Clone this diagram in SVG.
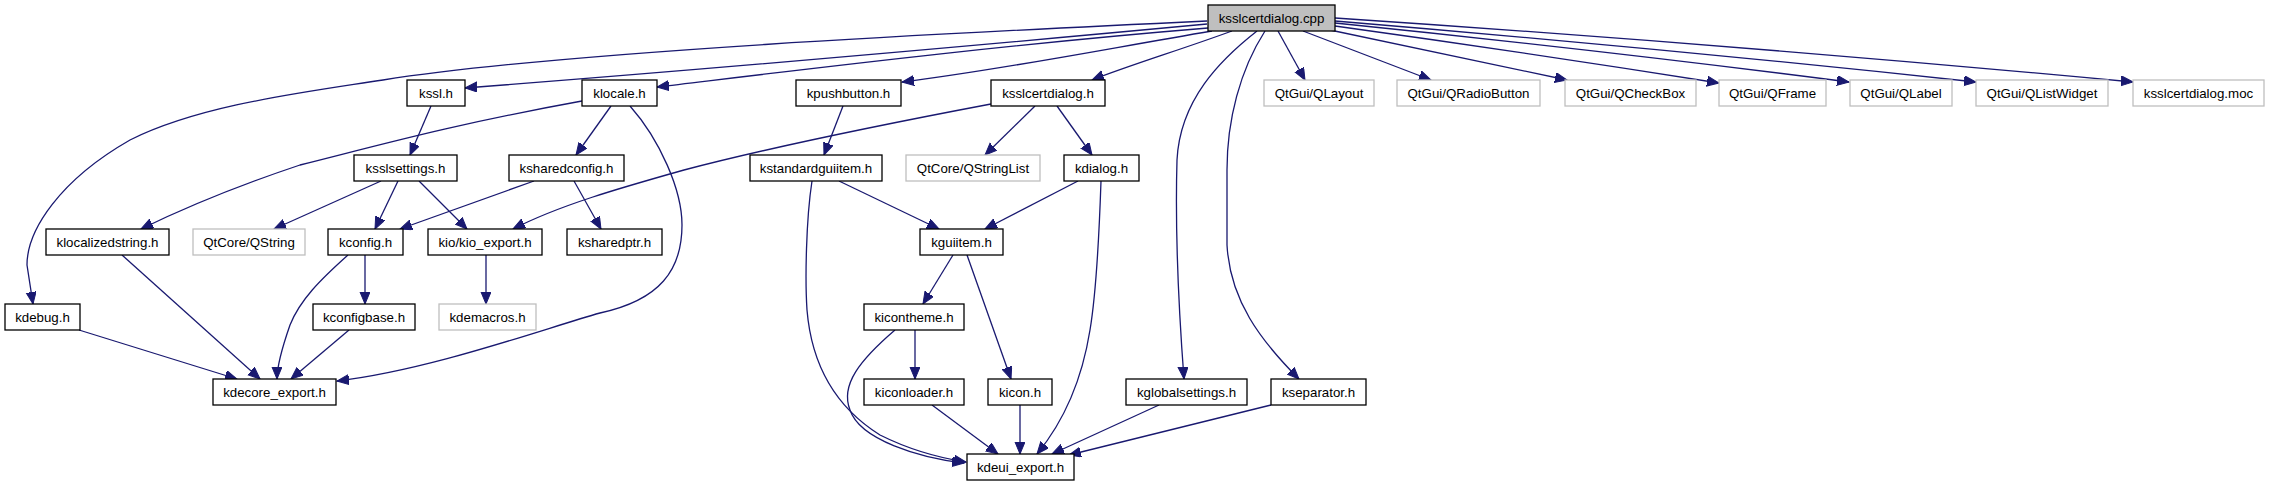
<svg xmlns="http://www.w3.org/2000/svg" width="2269" height="485" viewBox="0 0 2269 485">
<style>
.n rect{fill:#fff;stroke:#000;stroke-width:1.3}
.n.g rect{stroke:#bfbfbf}
.n.r rect{fill:#bfbfbf}
.n text{font-family:"Liberation Sans",Arial,sans-serif;font-size:13.3px;fill:#000;text-anchor:middle}
#edges path{fill:none;stroke:#191970;stroke-width:1.3;marker-end:url(#ah)}
</style>
<defs>
<marker id="ah" markerUnits="userSpaceOnUse" markerWidth="14" markerHeight="12" refX="12" refY="5" orient="auto">
<path d="M0,0 L12,5 L0,10 z" fill="#191970" stroke="#191970" stroke-width="1"/>
</marker>
</defs>
<rect width="2269" height="485" fill="#fff"/>
<g id="edges">
<path d="M1207,21 C950,33 560,52 383,80 C300,93 200,105 130,140 C60,180 27,230 27,265 L33,304"/>
<path d="M1207,24 Q800,62 465,88"/>
<path d="M1208,28 C1000,45 800,70 657,87"/>
<path d="M1212,31 C1100,50 1000,70 902,82"/>
<path d="M1232,31 C1180,50 1130,65 1092,80"/>
<path d="M1257,31 C1220,60 1180,100 1177,160 C1175,230 1178,300 1184,379"/>
<path d="M1265,31 C1240,70 1227,120 1227,170 L1227,245 C1230,300 1260,340 1299,379"/>
<path d="M1278,31 L1305,80"/>
<path d="M1303,31 L1431,80"/>
<path d="M1330,30 Q1450,55 1567,80"/>
<path d="M1335,26 Q1530,53 1719,83"/>
<path d="M1335,23 Q1600,50 1849,82"/>
<path d="M1335,21 Q1660,48 1976,82"/>
<path d="M1335,18 Q1740,45 2133,82"/>
<path d="M431,106 L410,155"/>
<path d="M582,101 C450,125 380,145 300,165 C240,185 180,210 141,229"/>
<path d="M611,106 L576,155"/>
<path d="M630,106 C660,140 682,190 682,225 C682,270 660,300 600,313 C540,330 430,370 337,381"/>
<path d="M991,104 C880,125 760,150 684,170 C620,188 560,205 513,229"/>
<path d="M1035,106 L985,155"/>
<path d="M1057,106 L1092,155"/>
<path d="M843,106 L824,155"/>
<path d="M381,181 L274,229"/>
<path d="M398,181 L375,229"/>
<path d="M419,181 L467,229"/>
<path d="M534,181 L400,229"/>
<path d="M574,181 L601,229"/>
<path d="M122,255 L260,379"/>
<path d="M365,255 L365,304"/>
<path d="M348,255 C320,280 300,300 290,325 C282,348 277,365 277,379"/>
<path d="M486,255 L486,304"/>
<path d="M79,330 L237,379"/>
<path d="M349,330 L291,379"/>
<path d="M839,181 L939,229"/>
<path d="M812,181 C806,220 805,280 807,310 C812,370 840,410 880,435 C910,450 940,458 966,462"/>
<path d="M1078,181 L985,229"/>
<path d="M1101,181 C1099,240 1095,300 1090,330 C1082,380 1065,420 1037,454"/>
<path d="M953,255 L923,304"/>
<path d="M967,255 L1011,379"/>
<path d="M915,330 L915,379"/>
<path d="M895,330 C860,360 840,385 850,410 C860,440 920,458 964,463"/>
<path d="M932,405 L998,454"/>
<path d="M1020,405 L1020,454"/>
<path d="M1159,405 L1052,454"/>
<path d="M1271,405 L1069,455"/>
</g>
<g id="n_root" class="n r"><rect x="1208" y="5" width="127" height="26"/><text x="1271.5" y="22.5">ksslcertdialog.cpp</text></g>
<g id="n_kssl" class="n"><rect x="407" y="80" width="58" height="26"/><text x="436" y="97.5">kssl.h</text></g>
<g id="n_klocale" class="n"><rect x="582" y="80" width="75" height="26"/><text x="619.5" y="97.5">klocale.h</text></g>
<g id="n_kpushbutton" class="n"><rect x="796" y="80" width="105" height="26"/><text x="848.5" y="97.5">kpushbutton.h</text></g>
<g id="n_ksslcertdialog_h" class="n"><rect x="991" y="80" width="114" height="26"/><text x="1048" y="97.5">ksslcertdialog.h</text></g>
<g id="n_qlayout" class="n g"><rect x="1264" y="80" width="110" height="26"/><text x="1319" y="97.5">QtGui/QLayout</text></g>
<g id="n_qradiobutton" class="n g"><rect x="1397" y="80" width="143" height="26"/><text x="1468.5" y="97.5">QtGui/QRadioButton</text></g>
<g id="n_qcheckbox" class="n g"><rect x="1565" y="80" width="131" height="26"/><text x="1630.5" y="97.5">QtGui/QCheckBox</text></g>
<g id="n_qframe" class="n g"><rect x="1719" y="80" width="107" height="26"/><text x="1772.5" y="97.5">QtGui/QFrame</text></g>
<g id="n_qlabel" class="n g"><rect x="1850" y="80" width="102" height="26"/><text x="1901" y="97.5">QtGui/QLabel</text></g>
<g id="n_qlistwidget" class="n g"><rect x="1976" y="80" width="132" height="26"/><text x="2042" y="97.5">QtGui/QListWidget</text></g>
<g id="n_moc" class="n g"><rect x="2133" y="80" width="131" height="26"/><text x="2198.5" y="97.5">ksslcertdialog.moc</text></g>
<g id="n_ksslsettings" class="n"><rect x="354" y="155" width="103" height="26"/><text x="405.5" y="172.5">ksslsettings.h</text></g>
<g id="n_ksharedconfig" class="n"><rect x="509" y="155" width="115" height="26"/><text x="566.5" y="172.5">ksharedconfig.h</text></g>
<g id="n_kstandardguiitem" class="n"><rect x="750" y="155" width="132" height="26"/><text x="816" y="172.5">kstandardguiitem.h</text></g>
<g id="n_qstringlist" class="n g"><rect x="906" y="155" width="134" height="26"/><text x="973" y="172.5">QtCore/QStringList</text></g>
<g id="n_kdialog" class="n"><rect x="1064" y="155" width="75" height="26"/><text x="1101.5" y="172.5">kdialog.h</text></g>
<g id="n_klocalizedstring" class="n"><rect x="46" y="229" width="123" height="26"/><text x="107.5" y="246.5">klocalizedstring.h</text></g>
<g id="n_qstring" class="n g"><rect x="193" y="229" width="112" height="26"/><text x="249" y="246.5">QtCore/QString</text></g>
<g id="n_kconfig" class="n"><rect x="328" y="229" width="75" height="26"/><text x="365.5" y="246.5">kconfig.h</text></g>
<g id="n_kio_export" class="n"><rect x="428" y="229" width="114" height="26"/><text x="485" y="246.5">kio/kio_export.h</text></g>
<g id="n_ksharedptr" class="n"><rect x="567" y="229" width="95" height="26"/><text x="614.5" y="246.5">ksharedptr.h</text></g>
<g id="n_kguiitem" class="n"><rect x="920" y="229" width="83" height="26"/><text x="961.5" y="246.5">kguiitem.h</text></g>
<g id="n_kdebug" class="n"><rect x="5" y="304" width="75" height="26"/><text x="42.5" y="321.5">kdebug.h</text></g>
<g id="n_kconfigbase" class="n"><rect x="313" y="304" width="102" height="26"/><text x="364" y="321.5">kconfigbase.h</text></g>
<g id="n_kdemacros" class="n g"><rect x="439" y="304" width="97" height="26"/><text x="487.5" y="321.5">kdemacros.h</text></g>
<g id="n_kicontheme" class="n"><rect x="864" y="304" width="100" height="26"/><text x="914" y="321.5">kicontheme.h</text></g>
<g id="n_kdecore_export" class="n"><rect x="213" y="379" width="123" height="26"/><text x="274.5" y="396.5">kdecore_export.h</text></g>
<g id="n_kiconloader" class="n"><rect x="864" y="379" width="100" height="26"/><text x="914" y="396.5">kiconloader.h</text></g>
<g id="n_kicon" class="n"><rect x="988" y="379" width="64" height="26"/><text x="1020" y="396.5">kicon.h</text></g>
<g id="n_kglobalsettings" class="n"><rect x="1126" y="379" width="121" height="26"/><text x="1186.5" y="396.5">kglobalsettings.h</text></g>
<g id="n_kseparator" class="n"><rect x="1271" y="379" width="95" height="26"/><text x="1318.5" y="396.5">kseparator.h</text></g>
<g id="n_kdeui_export" class="n"><rect x="967" y="454" width="107" height="26"/><text x="1020.5" y="471.5">kdeui_export.h</text></g>
</svg>
